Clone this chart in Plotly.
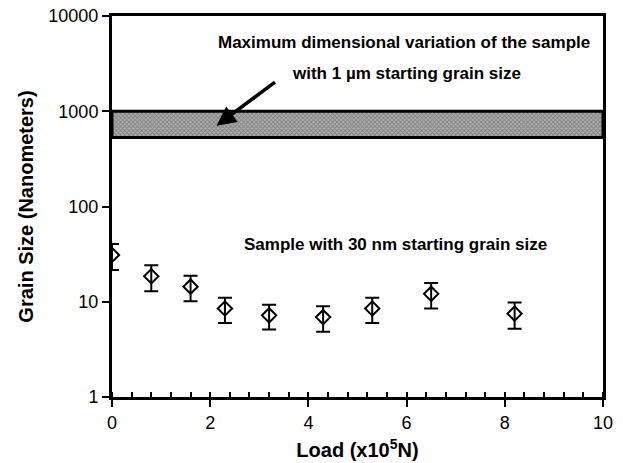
import math
import plotly.graph_objects as go

# Data
load = [0.0, 0.8, 1.6, 2.3, 3.2, 4.3, 5.3, 6.5, 8.2]
grain_size = [31, 18.5, 14.4, 8.5, 7.2, 6.9, 8.5, 12.1, 7.5]
grain_err = [9.5, 5.6, 4.3, 2.5, 2.1, 2.05, 2.5, 3.6, 2.3]

band_x = [0, 10]
band_low = 530
band_high = 1000

y_ticks = [1, 10, 100, 1000, 10000]
y_ticktext = ["1", "10", "100", "1000", "10000"]

FONT = "Liberation Sans, Arial, sans-serif"

fig = go.Figure()

# hatched band
fig.add_trace(go.Scatter(
    x=[band_x[0], band_x[1], band_x[1], band_x[0], band_x[0]],
    y=[band_low, band_low, band_high, band_high, band_low],
    mode="lines", fill="toself",
    line=dict(color="black", width=3),
    fillcolor="#999999",
    fillpattern=dict(shape="x", size=3, solidity=0.5, fgcolor="#444444", bgcolor="#b4b4b4"),
    hoverinfo="skip", showlegend=False,
))

fig.add_trace(go.Scatter(
    x=load, y=grain_size, mode="markers",
    marker=dict(symbol="diamond-open", size=11, color="black", line=dict(color="black", width=2)),
    error_y=dict(type="data", array=grain_err, color="black", thickness=2, width=7),
    showlegend=False,
))

fig.add_annotation(
    x=2.13, y=math.log10(705), ax=3.35, ay=math.log10(2080),
    xref="x", yref="y", axref="x", ayref="y",
    text="", showarrow=True, arrowhead=2, arrowsize=1.1, arrowwidth=3.5, arrowcolor="black",
)
fig.add_annotation(x=5.95, y=3.727, xref="x", yref="y", text="<b>Maximum dimensional variation of the sample</b>",
                   showarrow=False, font=dict(family=FONT, size=17, color="black"))
fig.add_annotation(x=6.0, y=3.40, xref="x", yref="y", text="<b>with 1 \u00b5m starting grain size</b>",
                   showarrow=False, font=dict(family=FONT, size=17, color="black"))
fig.add_annotation(x=5.78, y=1.596, xref="x", yref="y", text="<b>Sample with 30 nm starting grain size</b>",
                   showarrow=False, font=dict(family=FONT, size=17, color="black"))

fig.update_layout(
    width=623, height=463,
    margin=dict(l=112, r=20, t=16, b=66),
    plot_bgcolor="white", paper_bgcolor="white",
    font=dict(family=FONT, size=18, color="black"),
)
fig.update_xaxes(
    range=[0, 10], tickmode="linear", tick0=0, dtick=2, automargin=False,
    ticks="outside", ticklen=7, tickwidth=2, tickcolor="black",
    minor=dict(tickmode="linear", tick0=0, dtick=0.4, ticks="inside", ticklen=5, tickwidth=2, tickcolor="black"),
    showline=True, linewidth=3, linecolor="black", mirror=True, showgrid=False, zeroline=False,
    tickfont=dict(size=18),
    title=dict(text="<b>Load (x10<sup>5</sup>N)</b>", font=dict(size=20), standoff=12),
)
fig.update_yaxes(
    type="log", range=[0, 4], tickmode="array", tickvals=y_ticks, ticktext=y_ticktext, automargin=False,
    ticks="outside", ticklen=7, tickwidth=2, tickcolor="black",
    showline=True, linewidth=3, linecolor="black", mirror=True, showgrid=False, zeroline=False,
    tickfont=dict(size=18),
    title=dict(text="<b>Grain Size (Nanometers)</b>", font=dict(size=20), standoff=10),
)

fig.write_html("out.html", config={"displayModeBar": False},
               post_script="document.body.style.margin='0px';")
